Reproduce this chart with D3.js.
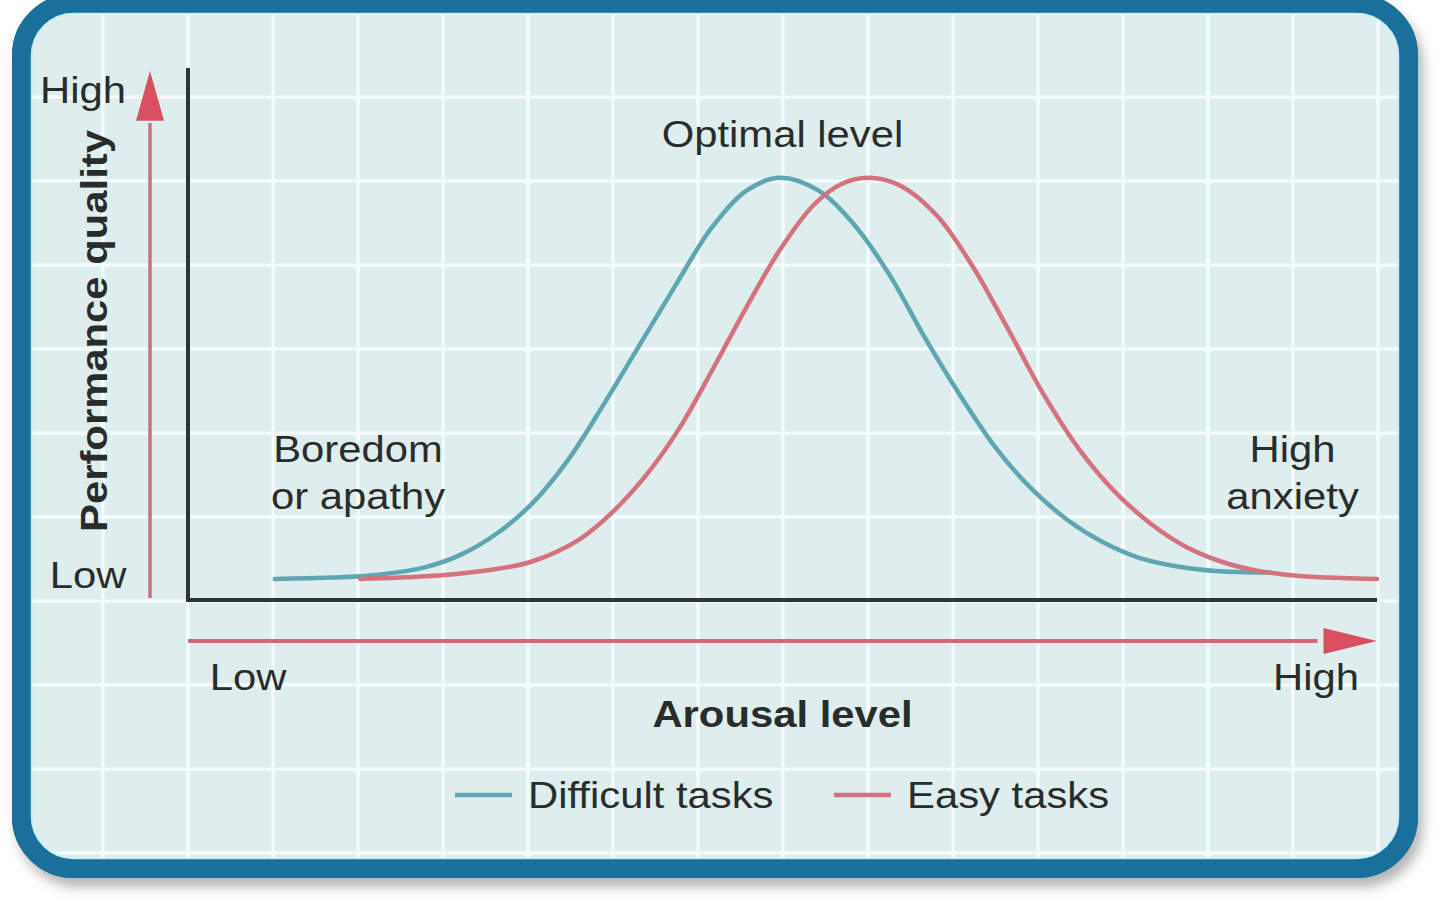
<!DOCTYPE html>
<html>
<head>
<meta charset="utf-8">
<script src="https://cdn.jsdelivr.net/npm/d3@7"></script>
<style>
  html, body { margin: 0; padding: 0; background: #ffffff; }
  svg { display: block; }
  text { font-family: "Liberation Sans", Arial, Helvetica, sans-serif; fill: #2a2c2c; }
</style>
</head>
<body>
<svg id="chart" width="1440" height="904"></svg>
<script>
// ---------------- data ----------------
const seriesNames = ["Difficult tasks", "Easy tasks"];
const seriesColors = ["#5fa6b3", "#d5727f"];

// arousal level (0 = low, 100 = high)
const difficultArousal = [7.3, 12, 16, 20, 23, 26, 29, 32, 35, 38, 41, 44, 47, 49.8, 53, 56, 59, 62, 65, 68, 71, 74, 77, 80, 84, 87.5, 91];
// performance quality (100 = optimal peak)
const difficultPerf    = [5.0, 5.3, 6.0, 7.8, 10.8, 15.8, 23.0, 33.3, 46.5, 60.5, 74.5, 88.0, 97.0, 100, 97.0, 89.0, 77.0, 62.0, 48.2, 35.8, 26.2, 18.9, 13.6, 10.0, 7.6, 6.7, 6.5];

const easyArousal = [14.5, 20, 24.6, 28.8, 33, 35.7, 38.6, 41.4, 44.2, 47, 49.8, 52.6, 55, 57.4, 60, 63, 66, 69, 72, 75, 78, 81, 84, 87, 90, 93.5, 97, 100];
const easyPerf    = [5.0, 5.6, 6.8, 9.0, 14.5, 20.8, 29.8, 41.0, 55.0, 69.5, 83.0, 93.5, 98.6, 100, 98.0, 91.0, 79.0, 64.0, 48.5, 35.5, 25.5, 18.0, 12.5, 9.0, 6.9, 5.7, 5.2, 5.0];

const yEndLabels = ["Low", "High"];      // performance quality ends
const xEndLabels = ["Low", "High"];      // arousal level ends
const yTitle = "Performance quality";
const xTitle = "Arousal level";
const regionLabels = [
  { lines: ["Boredom", "or apathy"], arousal: 14.3, perf: 32.7 },
  { lines: ["Optimal level"], arousal: 50, perf: 107.2 },
  { lines: ["High", "anxiety"], arousal: 92.9, perf: 32.7 }
];

// ---------------- layout ----------------
const svg = d3.select("#chart");
const x = d3.scaleLinear().domain([0, 100]).range([188, 1377]);
const y = d3.scaleLinear().domain([0, 126]).range([600, 68]);

const frame = { x: 21.5, y: 3.5, w: 1387, h: 865, r: 52 };
const defs = svg.append("defs");
const shadow = defs.append("filter").attr("id", "shadow")
  .attr("x", "-5%").attr("y", "-5%").attr("width", "112%").attr("height", "115%");
shadow.append("feDropShadow").attr("dx", 5).attr("dy", 9).attr("stdDeviation", 6)
  .attr("flood-color", "#7a7a7a").attr("flood-opacity", 0.55);
defs.append("clipPath").attr("id", "inner").append("rect")
  .attr("x", frame.x).attr("y", frame.y).attr("width", frame.w).attr("height", frame.h)
  .attr("rx", frame.r);

// panel with shadow
svg.append("rect")
  .attr("x", frame.x).attr("y", frame.y).attr("width", frame.w).attr("height", frame.h)
  .attr("rx", frame.r).attr("fill", "#deeded")
  .attr("stroke", "#19709a").attr("stroke-width", 19)
  .attr("filter", "url(#shadow)");

// background grid
const grid = svg.append("g").attr("clip-path", "url(#inner)");
const gx = d3.range(18, 1440, 85);
const gy = d3.range(13, 904, 84);
grid.selectAll("line.v").data(gx).join("line").attr("class", "v")
  .attr("x1", d => d).attr("x2", d => d).attr("y1", 0).attr("y2", 904)
  .attr("stroke", "#f3fbfb").attr("stroke-width", 3.5);
grid.selectAll("line.h").data(gy).join("line").attr("class", "h")
  .attr("y1", d => d).attr("y2", d => d).attr("x1", 0).attr("x2", 1440)
  .attr("stroke", "#f3fbfb").attr("stroke-width", 3.5);

// frame stroke on top of grid
svg.append("rect")
  .attr("x", frame.x).attr("y", frame.y).attr("width", frame.w).attr("height", frame.h)
  .attr("rx", frame.r).attr("fill", "none")
  .attr("stroke", "#19709a").attr("stroke-width", 19);
svg.append("rect")
  .attr("x", frame.x + 10).attr("y", frame.y + 10).attr("width", frame.w - 20).attr("height", frame.h - 20)
  .attr("rx", frame.r - 10).attr("fill", "none")
  .attr("stroke", "#bdeef5").attr("stroke-width", 1.5);

// axes (black)
svg.append("line")
  .attr("x1", x(0)).attr("x2", x(0)).attr("y1", y(0) + 2).attr("y2", y(126))
  .attr("stroke", "#2f3434").attr("stroke-width", 4);
svg.append("line")
  .attr("x1", x(0)).attr("x2", x(100)).attr("y1", y(0)).attr("y2", y(0))
  .attr("stroke", "#2f3434").attr("stroke-width", 4);

// red direction arrows
const arrowRed = "#d8505f";
const yArrowX = 150;
svg.append("line")
  .attr("x1", yArrowX).attr("x2", yArrowX).attr("y1", y(0.5)).attr("y2", y(113))
  .attr("stroke", "#c9727f").attr("stroke-width", 3.5);
svg.append("path")
  .attr("d", `M${yArrowX},${y(125.3)} L${yArrowX - 14},${y(113.5)} L${yArrowX + 14},${y(113.5)} Z`)
  .attr("fill", arrowRed);
const xArrowY = 641;
svg.append("line")
  .attr("x1", x(0)).attr("x2", x(95)).attr("y1", xArrowY).attr("y2", xArrowY)
  .attr("stroke", "#cf6a79").attr("stroke-width", 4);
svg.append("path")
  .attr("d", `M${x(100)},${xArrowY} L${x(95.5)},${xArrowY - 13} L${x(95.5)},${xArrowY + 13} Z`)
  .attr("fill", arrowRed);

// curves
const line = d3.line().x(d => x(d[0])).y(d => y(d[1])).curve(d3.curveCatmullRom.alpha(0.5));
const series = [
  d3.zip(difficultArousal, difficultPerf),
  d3.zip(easyArousal, easyPerf)
];
svg.selectAll("path.curve").data(series).join("path").attr("class", "curve")
  .attr("d", line).attr("fill", "none")
  .attr("stroke", (d, i) => seriesColors[i]).attr("stroke-width", 4.5)
  .attr("stroke-linecap", "round");

// text helper
const FS = 37, SX = 1.13;
function label(str, px, py, weight, anchor, rot) {
  return svg.append("text")
    .attr("transform", `translate(${px},${py})` + (rot ? ` rotate(${rot})` : "") + ` scale(${SX},1)`)
    .attr("text-anchor", anchor || "middle")
    .attr("font-size", FS)
    .attr("font-weight", weight || "normal")
    .text(str);
}

// y end labels
label(yEndLabels[1], 83, y(117.8));
label(yEndLabels[0], 88, y(2.8));
label(yTitle, 107, 331, "bold", "middle", -90);

// x end labels
label(xEndLabels[0], 248, 690);
label(xEndLabels[1], 1316, 690);
label(xTitle, x(50), 727, "bold");

// region labels
regionLabels.forEach(r => {
  r.lines.forEach((t, i) => label(t, x(r.arousal), y(r.perf) + i * 47, "normal"));
});

// legend
const legendX = [455, 834];
const legendY = 795;
seriesNames.forEach((name, i) => {
  svg.append("line")
    .attr("x1", legendX[i]).attr("x2", legendX[i] + 57)
    .attr("y1", legendY).attr("y2", legendY)
    .attr("stroke", seriesColors[i]).attr("stroke-width", 4.5);
  label(name, legendX[i] + 73, legendY + 13, "normal", "start");
});
</script>
</body>
</html>
